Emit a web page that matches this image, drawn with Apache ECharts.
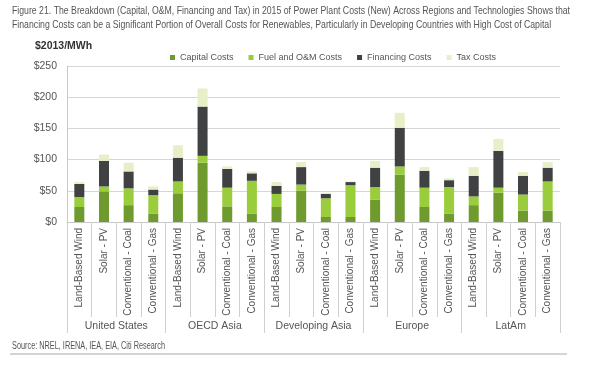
<!DOCTYPE html>
<html>
<head>
<meta charset="utf-8">
<script src="https://cdn.jsdelivr.net/npm/echarts@6/dist/echarts.min.js"></script>
<style>
html,body{margin:0;padding:0;background:#fff;}
#chart{width:600px;height:367px;}
</style>
</head>
<body>
<div id="chart"></div>
<script>
var techs = ['Land-Based Wind','Solar - PV','Conventional - Coal','Conventional - Gas'];
var regions = ['United States','OECD Asia','Developing Asia','Europe','LatAm'];
var categories = [];
regions.forEach(function(){ techs.forEach(function(t){ categories.push(t); }); });

var capitalCosts   = [24,49,27,13, 46,95,25,13, 24,50,8,8,   36,76,24,13, 27,47,18,18];
var fuelOMCosts    = [16,8,27,30,  19,11,30,53, 21,10,30,51, 20,13,31,43, 14,8,26,47];
var financingCosts = [21,41,27,9,  38,79,30,12, 13,28,7,5,   31,62,27,11, 33,59,30,22];
var taxCosts       = [3,10,14,5,   20,29,4,3,   6,8,2,1,     11,24,6,3,   14,19,6,9];

var seriesNames = ['Capital Costs','Fuel and O&M Costs','Financing Costs','Tax Costs'];
var seriesColors = ['#6e9a2e','#9acd3c','#3f4143','#e6efc8'];
var yTicks = [0,50,100,150,200,250];

var titleLine1 = 'Figure 21. The Breakdown (Capital, O&M, Financing and Tax) in 2015 of Power Plant Costs (New) Across Regions and Technologies Shows that';
var titleLine2 = 'Financing Costs can be a Significant Portion of Overall Costs for Renewables, Particularly in Developing Countries with High Cost of Capital';
var unitText = '$2013/MWh';
var sourceText = 'Source: NREL, IRENA, IEA, EIA, Citi Research';

var sans = '"Liberation Sans",Arial,sans-serif';

function measure(txt, font){
  var c = document.createElement('canvas').getContext('2d');
  c.font = font;
  return c.measureText(txt).width;
}
var titleFont = '11.5px ' + sans;
var titleScale = 558 / measure(titleLine1, titleFont);
var srcFont = '10px ' + sans;
var srcScale = 153 / measure(sourceText, srcFont);

var chart = echarts.init(document.getElementById('chart'), null, {renderer:'canvas'});
var dataSets = [capitalCosts, fuelOMCosts, financingCosts, taxCosts];

chart.setOption({
  animation:false,
  backgroundColor:'#fff',
  legend:{
    data:seriesNames, left:165, top:48, icon:'rect', itemWidth:5, itemHeight:5, itemGap:15,
    textStyle:{fontFamily:sans, fontSize:9, color:'#555'}
  },
  graphic:[
    {type:'text', x:12, y:5, scaleX:titleScale, style:{text:titleLine1, font:titleFont, fill:'#555'}},
    {type:'text', x:12, y:19, scaleX:titleScale, style:{text:titleLine2, font:titleFont, fill:'#555'}},
    {type:'text', x:35, y:41, style:{text:unitText, font:'bold 10.5px ' + sans, fill:'#333'}},
    {type:'text', x:12, y:341, scaleX:srcScale, style:{text:sourceText, font:srcFont, fill:'#555'}},
    {type:'rect', shape:{x:10, y:353, width:557, height:2}, style:{fill:'#d4d4d4'}}
  ],
  grid:{left:67, right:40, top:66, bottom:145},
  xAxis:[
    {
      type:'category', data:categories, position:'bottom',
      axisLine:{lineStyle:{color:'#c8c8c8'}},
      axisTick:{show:true, interval:0, length:95, lineStyle:{color:'#d0d0d0'}},
      axisLabel:{interval:0, rotate:90, margin:6, fontFamily:sans, fontSize:10, color:'#555'}
    },
    {
      type:'category', data:regions, position:'bottom', gridIndex:0,
      axisLine:{show:false},
      axisTick:{show:true, interval:0, length:111, lineStyle:{color:'#d0d0d0'}},
      axisLabel:{interval:0, margin:99, fontFamily:sans, fontSize:10.5, color:'#555'}
    }
  ],
  yAxis:{
    type:'value', min:yTicks[0], max:yTicks[yTicks.length-1], interval:50,
    axisLine:{show:true, lineStyle:{color:'#c8c8c8'}},
    axisTick:{show:false},
    axisLabel:{margin:10, fontFamily:sans, fontSize:10.5, color:'#555', formatter:function(v){return '$'+v;}},
    splitLine:{lineStyle:{color:'#d6d6d6'}}
  },
  series:seriesNames.map(function(n,i){
    return {name:n, type:'bar', stack:'total', barWidth:10, xAxisIndex:0,
      itemStyle:{color:seriesColors[i]}, data:dataSets[i]};
  })
});
</script>
</body>
</html>
